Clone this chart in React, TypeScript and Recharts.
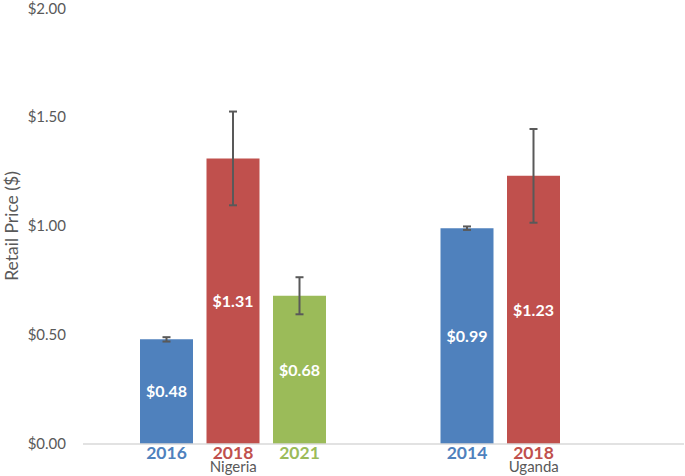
import React from 'react';
import { BarChart, Bar, XAxis, YAxis, ErrorBar, LabelList, Label } from 'recharts';

const countries = ['Nigeria', 'Uganda'];

// series 1 / 2 / 3 (blue, red, green) - survey years per country
const years1 = ['2016', '2014'];
const years2 = ['2018', '2018'];
const years3 = ['2021', ''];

const prices1 = [0.48, 0.99];
const prices2 = [1.31, 1.23];
const prices3 = [0.68, null];

const err1 = [0.01, 0.008];
const err2 = [0.215, 0.215];
const err3 = [0.085, null];

const yTicks = [0, 0.5, 1, 1.5, 2];

const colors = ['#4F81BD', '#C0504D', '#9BBB59'];
const FONT = 'Lato, sans-serif';

const data = countries.map((c, i) => ({
  country: c,
  y1: years1[i], y2: years2[i], y3: years3[i],
  v1: prices1[i], v2: prices2[i], v3: prices3[i],
  e1: err1[i], e2: err2[i], e3: err3[i],
}));

const money = (v: any) => (v == null ? '' : `$${Number(v).toFixed(2)}`);

const yearLabel = (color: string) => (props: any) => {
  const { x, y, width, height, value } = props;
  if (!value) return null;
  return (
    <text
      x={x + width / 2}
      y={y + height + 15}
      textAnchor="middle"
      fill={color}
      fontSize={17.5}
      fontWeight="bold"
      fontFamily={FONT}
    >
      {value}
    </text>
  );
};

export default function App() {
  const series = [
    { v: 'v1', e: 'e1', y: 'y1' },
    { v: 'v2', e: 'e2', y: 'y2' },
    { v: 'v3', e: 'e3', y: 'y3' },
  ];
  return (
    <div style={{ position: 'absolute', left: 0, top: 0, background: '#fff' }}>
      <BarChart
        width={685}
        height={476}
        data={data}
        margin={{ top: 8, right: 1, bottom: 0, left: 0 }}
        barSize={53}
        barGap={13.5}
        style={{ fontFamily: FONT }}
      >
        <XAxis
          dataKey="country"
          height={32}
          axisLine={{ stroke: '#d9d9d9', strokeWidth: 1.5 }}
          tickLine={false}
          tickMargin={11}
          tick={{ fill: '#595959', fontSize: 15, fontFamily: FONT }}
        />
        <YAxis
          width={83}
          domain={[0, 2]}
          ticks={yTicks}
          tickFormatter={money}
          axisLine={false}
          tickLine={false}
          tickMargin={11}
          tick={{ fill: '#595959', fontSize: 15, fontFamily: FONT }}
        >
          <Label
            value="Retail Price ($)"
            angle={-90}
            position="insideLeft"
            offset={12}
            style={{ textAnchor: 'middle', fill: '#595959', fontSize: 17.5, fontFamily: FONT }}
          />
        </YAxis>
        {series.map((s, i) => (
          <Bar key={s.v} dataKey={s.v} fill={colors[i]} isAnimationActive={false}>
            <ErrorBar dataKey={s.e} direction="y" width={4} stroke="#595959" strokeWidth={2} />
            <LabelList
              dataKey={s.v}
              position="center"
              formatter={money}
              fill="#fff"
              fontSize={16}
              fontWeight="bold"
              fontFamily={FONT}
            />
            <LabelList dataKey={s.y} content={yearLabel(colors[i])} />
          </Bar>
        ))}
      </BarChart>
    </div>
  );
}
